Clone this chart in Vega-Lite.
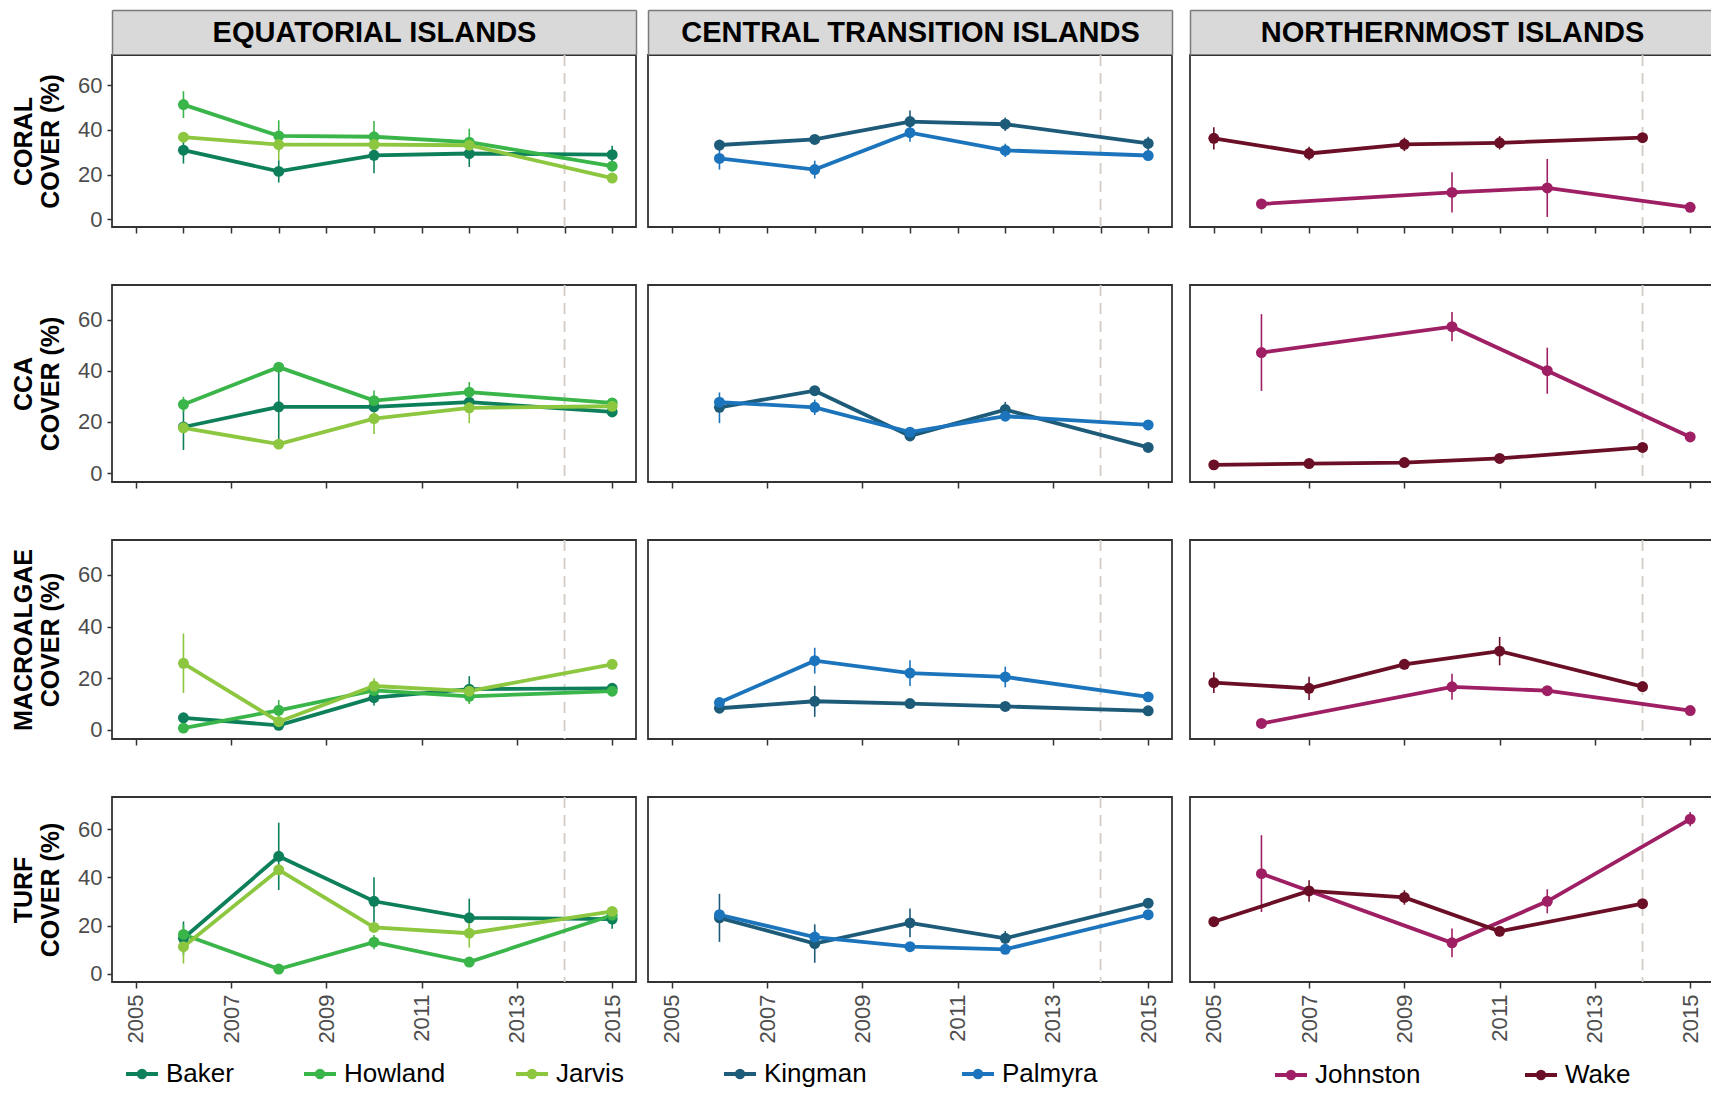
{
  "$schema": "https://vega.github.io/schema/vega-lite/v6.json",
  "padding": {"left": 10, "top": 8, "right": 0, "bottom": 0},
  "background": "white",
  "datasets": {
    "marker": [{"year": 2014}],
    "cover": [
      {"island":"Baker","region":"Equatorial","metric":"Coral","year":2006,"value":30.9,"lo":24.9,"hi":36.9},
      {"island":"Baker","region":"Equatorial","metric":"Coral","year":2008,"value":21.4,"lo":16.4,"hi":26.4},
      {"island":"Baker","region":"Equatorial","metric":"Coral","year":2010,"value":28.6,"lo":20.6,"hi":36.6},
      {"island":"Baker","region":"Equatorial","metric":"Coral","year":2012,"value":29.4,"lo":23.4,"hi":35.4},
      {"island":"Baker","region":"Equatorial","metric":"Coral","year":2015,"value":28.9,"lo":24.9,"hi":32.9},
      {"island":"Howland","region":"Equatorial","metric":"Coral","year":2006,"value":51.3,"lo":45.3,"hi":57.3},
      {"island":"Howland","region":"Equatorial","metric":"Coral","year":2008,"value":37.3,"lo":30.3,"hi":44.3},
      {"island":"Howland","region":"Equatorial","metric":"Coral","year":2010,"value":36.9,"lo":29.9,"hi":43.9},
      {"island":"Howland","region":"Equatorial","metric":"Coral","year":2012,"value":34.5,"lo":28.5,"hi":40.5},
      {"island":"Howland","region":"Equatorial","metric":"Coral","year":2015,"value":23.7,"lo":22.7,"hi":24.7},
      {"island":"Jarvis","region":"Equatorial","metric":"Coral","year":2006,"value":36.7,"lo":34.7,"hi":38.7},
      {"island":"Jarvis","region":"Equatorial","metric":"Coral","year":2008,"value":33.4,"lo":26.4,"hi":35.4},
      {"island":"Jarvis","region":"Equatorial","metric":"Coral","year":2010,"value":33.4,"lo":31.4,"hi":35.4},
      {"island":"Jarvis","region":"Equatorial","metric":"Coral","year":2012,"value":33.1,"lo":31.1,"hi":35.1},
      {"island":"Jarvis","region":"Equatorial","metric":"Coral","year":2015,"value":18.4,"lo":17.4,"hi":19.4},
      {"island":"Kingman","region":"Central","metric":"Coral","year":2006,"value":33.2,"lo":32.2,"hi":34.2},
      {"island":"Kingman","region":"Central","metric":"Coral","year":2008,"value":35.7,"lo":34.7,"hi":36.7},
      {"island":"Kingman","region":"Central","metric":"Coral","year":2010,"value":43.7,"lo":38.7,"hi":48.7},
      {"island":"Kingman","region":"Central","metric":"Coral","year":2012,"value":42.5,"lo":39.5,"hi":45.5},
      {"island":"Kingman","region":"Central","metric":"Coral","year":2015,"value":33.9,"lo":30.9,"hi":36.9},
      {"island":"Palmyra","region":"Central","metric":"Coral","year":2006,"value":27.2,"lo":22.2,"hi":32.2},
      {"island":"Palmyra","region":"Central","metric":"Coral","year":2008,"value":22.2,"lo":18.2,"hi":26.2},
      {"island":"Palmyra","region":"Central","metric":"Coral","year":2010,"value":38.7,"lo":34.7,"hi":42.7},
      {"island":"Palmyra","region":"Central","metric":"Coral","year":2012,"value":30.8,"lo":27.8,"hi":33.8},
      {"island":"Palmyra","region":"Central","metric":"Coral","year":2015,"value":28.5,"lo":27.5,"hi":29.5},
      {"island":"Johnston","region":"Northern","metric":"Coral","year":2006,"value":6.8,"lo":5.8,"hi":7.8},
      {"island":"Johnston","region":"Northern","metric":"Coral","year":2010,"value":12.0,"lo":3.0,"hi":21.0},
      {"island":"Johnston","region":"Northern","metric":"Coral","year":2012,"value":14.0,"lo":1.0,"hi":27.0},
      {"island":"Johnston","region":"Northern","metric":"Coral","year":2015,"value":5.3,"lo":4.3,"hi":6.3},
      {"island":"Wake","region":"Northern","metric":"Coral","year":2005,"value":36.2,"lo":31.2,"hi":41.2},
      {"island":"Wake","region":"Northern","metric":"Coral","year":2007,"value":29.4,"lo":26.4,"hi":32.4},
      {"island":"Wake","region":"Northern","metric":"Coral","year":2009,"value":33.5,"lo":30.5,"hi":36.5},
      {"island":"Wake","region":"Northern","metric":"Coral","year":2011,"value":34.2,"lo":31.2,"hi":37.2},
      {"island":"Wake","region":"Northern","metric":"Coral","year":2014,"value":36.5,"lo":34.5,"hi":38.5},

      {"island":"Baker","region":"Equatorial","metric":"CCA","year":2006,"value":18.0,"lo":9.0,"hi":27.0},
      {"island":"Baker","region":"Equatorial","metric":"CCA","year":2008,"value":25.9,"lo":10.9,"hi":40.9},
      {"island":"Baker","region":"Equatorial","metric":"CCA","year":2010,"value":25.9,"lo":23.9,"hi":27.9},
      {"island":"Baker","region":"Equatorial","metric":"CCA","year":2012,"value":27.7,"lo":23.7,"hi":31.7},
      {"island":"Baker","region":"Equatorial","metric":"CCA","year":2015,"value":23.9,"lo":22.9,"hi":24.9},
      {"island":"Howland","region":"Equatorial","metric":"CCA","year":2006,"value":26.8,"lo":23.8,"hi":29.8},
      {"island":"Howland","region":"Equatorial","metric":"CCA","year":2008,"value":41.4,"lo":39.4,"hi":43.4},
      {"island":"Howland","region":"Equatorial","metric":"CCA","year":2010,"value":28.3,"lo":24.3,"hi":32.3},
      {"island":"Howland","region":"Equatorial","metric":"CCA","year":2012,"value":31.6,"lo":27.6,"hi":35.6},
      {"island":"Howland","region":"Equatorial","metric":"CCA","year":2015,"value":27.4,"lo":26.4,"hi":28.4},
      {"island":"Jarvis","region":"Equatorial","metric":"CCA","year":2006,"value":17.7,"lo":16.7,"hi":18.7},
      {"island":"Jarvis","region":"Equatorial","metric":"CCA","year":2008,"value":11.3,"lo":10.3,"hi":12.3},
      {"island":"Jarvis","region":"Equatorial","metric":"CCA","year":2010,"value":21.3,"lo":15.3,"hi":27.3},
      {"island":"Jarvis","region":"Equatorial","metric":"CCA","year":2012,"value":25.5,"lo":19.5,"hi":31.5},
      {"island":"Jarvis","region":"Equatorial","metric":"CCA","year":2015,"value":26.1,"lo":25.1,"hi":27.1},
      {"island":"Kingman","region":"Central","metric":"CCA","year":2006,"value":25.7,"lo":24.7,"hi":26.7},
      {"island":"Kingman","region":"Central","metric":"CCA","year":2008,"value":32.2,"lo":31.2,"hi":33.2},
      {"island":"Kingman","region":"Central","metric":"CCA","year":2010,"value":14.5,"lo":13.5,"hi":15.5},
      {"island":"Kingman","region":"Central","metric":"CCA","year":2012,"value":24.8,"lo":21.8,"hi":27.8},
      {"island":"Kingman","region":"Central","metric":"CCA","year":2015,"value":10.0,"lo":9.0,"hi":11.0},
      {"island":"Palmyra","region":"Central","metric":"CCA","year":2006,"value":27.7,"lo":19.5,"hi":31.5},
      {"island":"Palmyra","region":"Central","metric":"CCA","year":2008,"value":25.7,"lo":22.7,"hi":28.7},
      {"island":"Palmyra","region":"Central","metric":"CCA","year":2010,"value":16.0,"lo":15.0,"hi":17.0},
      {"island":"Palmyra","region":"Central","metric":"CCA","year":2012,"value":22.2,"lo":21.2,"hi":23.2},
      {"island":"Palmyra","region":"Central","metric":"CCA","year":2015,"value":18.8,"lo":17.8,"hi":19.8},
      {"island":"Johnston","region":"Northern","metric":"CCA","year":2006,"value":47.1,"lo":32.1,"hi":62.1},
      {"island":"Johnston","region":"Northern","metric":"CCA","year":2010,"value":57.2,"lo":51.5,"hi":62.9},
      {"island":"Johnston","region":"Northern","metric":"CCA","year":2012,"value":40.0,"lo":31.0,"hi":49.0},
      {"island":"Johnston","region":"Northern","metric":"CCA","year":2015,"value":14.1,"lo":12.1,"hi":16.1},
      {"island":"Wake","region":"Northern","metric":"CCA","year":2005,"value":3.2,"lo":2.7,"hi":3.7},
      {"island":"Wake","region":"Northern","metric":"CCA","year":2007,"value":3.7,"lo":3.2,"hi":4.2},
      {"island":"Wake","region":"Northern","metric":"CCA","year":2009,"value":4.1,"lo":3.6,"hi":4.6},
      {"island":"Wake","region":"Northern","metric":"CCA","year":2011,"value":5.7,"lo":5.2,"hi":6.2},
      {"island":"Wake","region":"Northern","metric":"CCA","year":2014,"value":10.0,"lo":9.0,"hi":11.0},

      {"island":"Baker","region":"Equatorial","metric":"Macroalgae","year":2006,"value":4.7,"lo":3.7,"hi":5.7},
      {"island":"Baker","region":"Equatorial","metric":"Macroalgae","year":2008,"value":1.8,"lo":0.8,"hi":2.8},
      {"island":"Baker","region":"Equatorial","metric":"Macroalgae","year":2010,"value":12.5,"lo":9.5,"hi":15.5},
      {"island":"Baker","region":"Equatorial","metric":"Macroalgae","year":2012,"value":15.8,"lo":10.8,"hi":20.8},
      {"island":"Baker","region":"Equatorial","metric":"Macroalgae","year":2015,"value":16.1,"lo":15.1,"hi":17.1},
      {"island":"Howland","region":"Equatorial","metric":"Macroalgae","year":2006,"value":0.7,"lo":0.2,"hi":1.2},
      {"island":"Howland","region":"Equatorial","metric":"Macroalgae","year":2008,"value":7.6,"lo":3.6,"hi":11.6},
      {"island":"Howland","region":"Equatorial","metric":"Macroalgae","year":2010,"value":15.3,"lo":14.3,"hi":16.3},
      {"island":"Howland","region":"Equatorial","metric":"Macroalgae","year":2012,"value":13.0,"lo":10.0,"hi":16.0},
      {"island":"Howland","region":"Equatorial","metric":"Macroalgae","year":2015,"value":15.0,"lo":14.0,"hi":16.0},
      {"island":"Jarvis","region":"Equatorial","metric":"Macroalgae","year":2006,"value":25.8,"lo":14.3,"hi":37.3},
      {"island":"Jarvis","region":"Equatorial","metric":"Macroalgae","year":2008,"value":3.2,"lo":2.2,"hi":4.2},
      {"island":"Jarvis","region":"Equatorial","metric":"Macroalgae","year":2010,"value":17.0,"lo":14.0,"hi":20.0},
      {"island":"Jarvis","region":"Equatorial","metric":"Macroalgae","year":2012,"value":15.0,"lo":14.0,"hi":16.0},
      {"island":"Jarvis","region":"Equatorial","metric":"Macroalgae","year":2015,"value":25.4,"lo":24.4,"hi":26.4},
      {"island":"Kingman","region":"Central","metric":"Macroalgae","year":2006,"value":8.4,"lo":7.4,"hi":9.4},
      {"island":"Kingman","region":"Central","metric":"Macroalgae","year":2008,"value":11.1,"lo":5.1,"hi":17.1},
      {"island":"Kingman","region":"Central","metric":"Macroalgae","year":2010,"value":10.2,"lo":9.2,"hi":11.2},
      {"island":"Kingman","region":"Central","metric":"Macroalgae","year":2012,"value":9.1,"lo":8.1,"hi":10.1},
      {"island":"Kingman","region":"Central","metric":"Macroalgae","year":2015,"value":7.4,"lo":6.4,"hi":8.4},
      {"island":"Palmyra","region":"Central","metric":"Macroalgae","year":2006,"value":10.6,"lo":9.6,"hi":11.6},
      {"island":"Palmyra","region":"Central","metric":"Macroalgae","year":2008,"value":26.8,"lo":21.8,"hi":31.8},
      {"island":"Palmyra","region":"Central","metric":"Macroalgae","year":2010,"value":22.0,"lo":17.0,"hi":27.0},
      {"island":"Palmyra","region":"Central","metric":"Macroalgae","year":2012,"value":20.5,"lo":16.5,"hi":24.5},
      {"island":"Palmyra","region":"Central","metric":"Macroalgae","year":2015,"value":12.8,"lo":11.8,"hi":13.8},
      {"island":"Johnston","region":"Northern","metric":"Macroalgae","year":2006,"value":2.5,"lo":1.5,"hi":3.5},
      {"island":"Johnston","region":"Northern","metric":"Macroalgae","year":2010,"value":16.7,"lo":11.7,"hi":21.7},
      {"island":"Johnston","region":"Northern","metric":"Macroalgae","year":2012,"value":15.2,"lo":14.2,"hi":16.2},
      {"island":"Johnston","region":"Northern","metric":"Macroalgae","year":2015,"value":7.5,"lo":6.5,"hi":8.5},
      {"island":"Wake","region":"Northern","metric":"Macroalgae","year":2005,"value":18.3,"lo":14.3,"hi":22.3},
      {"island":"Wake","region":"Northern","metric":"Macroalgae","year":2007,"value":16.1,"lo":11.6,"hi":20.6},
      {"island":"Wake","region":"Northern","metric":"Macroalgae","year":2009,"value":25.4,"lo":23.4,"hi":27.4},
      {"island":"Wake","region":"Northern","metric":"Macroalgae","year":2011,"value":30.5,"lo":25.0,"hi":36.0},
      {"island":"Wake","region":"Northern","metric":"Macroalgae","year":2014,"value":16.8,"lo":15.8,"hi":17.8},

      {"island":"Baker","region":"Equatorial","metric":"Turf","year":2006,"value":14.7,"lo":7.7,"hi":21.7},
      {"island":"Baker","region":"Equatorial","metric":"Turf","year":2008,"value":48.8,"lo":34.8,"hi":62.8},
      {"island":"Baker","region":"Equatorial","metric":"Turf","year":2010,"value":30.1,"lo":20.1,"hi":40.1},
      {"island":"Baker","region":"Equatorial","metric":"Turf","year":2012,"value":23.2,"lo":15.2,"hi":31.2},
      {"island":"Baker","region":"Equatorial","metric":"Turf","year":2015,"value":22.7,"lo":18.7,"hi":26.7},
      {"island":"Howland","region":"Equatorial","metric":"Turf","year":2006,"value":16.3,"lo":12.3,"hi":20.3},
      {"island":"Howland","region":"Equatorial","metric":"Turf","year":2008,"value":1.9,"lo":0.9,"hi":2.9},
      {"island":"Howland","region":"Equatorial","metric":"Turf","year":2010,"value":13.1,"lo":10.1,"hi":16.1},
      {"island":"Howland","region":"Equatorial","metric":"Turf","year":2012,"value":4.8,"lo":3.8,"hi":5.8},
      {"island":"Howland","region":"Equatorial","metric":"Turf","year":2015,"value":24.3,"lo":23.3,"hi":25.3},
      {"island":"Jarvis","region":"Equatorial","metric":"Turf","year":2006,"value":11.2,"lo":4.2,"hi":18.2},
      {"island":"Jarvis","region":"Equatorial","metric":"Turf","year":2008,"value":43.2,"lo":42.2,"hi":44.2},
      {"island":"Jarvis","region":"Equatorial","metric":"Turf","year":2010,"value":19.2,"lo":18.2,"hi":20.2},
      {"island":"Jarvis","region":"Equatorial","metric":"Turf","year":2012,"value":16.8,"lo":10.8,"hi":22.8},
      {"island":"Jarvis","region":"Equatorial","metric":"Turf","year":2015,"value":25.9,"lo":24.9,"hi":26.9},
      {"island":"Kingman","region":"Central","metric":"Turf","year":2006,"value":23.2,"lo":13.2,"hi":33.2},
      {"island":"Kingman","region":"Central","metric":"Turf","year":2008,"value":12.5,"lo":4.5,"hi":20.5},
      {"island":"Kingman","region":"Central","metric":"Turf","year":2010,"value":21.1,"lo":15.1,"hi":27.1},
      {"island":"Kingman","region":"Central","metric":"Turf","year":2012,"value":14.7,"lo":11.7,"hi":17.7},
      {"island":"Kingman","region":"Central","metric":"Turf","year":2015,"value":29.3,"lo":27.3,"hi":31.3},
      {"island":"Palmyra","region":"Central","metric":"Turf","year":2006,"value":24.5,"lo":23.5,"hi":25.5},
      {"island":"Palmyra","region":"Central","metric":"Turf","year":2008,"value":15.2,"lo":12.2,"hi":18.2},
      {"island":"Palmyra","region":"Central","metric":"Turf","year":2010,"value":11.2,"lo":10.2,"hi":12.2},
      {"island":"Palmyra","region":"Central","metric":"Turf","year":2012,"value":10.1,"lo":9.1,"hi":11.1},
      {"island":"Palmyra","region":"Central","metric":"Turf","year":2015,"value":24.5,"lo":23.5,"hi":25.5},
      {"island":"Johnston","region":"Northern","metric":"Turf","year":2006,"value":41.6,"lo":25.6,"hi":57.6},
      {"island":"Johnston","region":"Northern","metric":"Turf","year":2010,"value":12.8,"lo":6.8,"hi":18.8},
      {"island":"Johnston","region":"Northern","metric":"Turf","year":2012,"value":30.1,"lo":25.1,"hi":35.1},
      {"island":"Johnston","region":"Northern","metric":"Turf","year":2015,"value":64.3,"lo":61.3,"hi":67.3},
      {"island":"Wake","region":"Northern","metric":"Turf","year":2005,"value":21.6,"lo":19.6,"hi":23.6},
      {"island":"Wake","region":"Northern","metric":"Turf","year":2007,"value":34.4,"lo":29.9,"hi":38.9},
      {"island":"Wake","region":"Northern","metric":"Turf","year":2009,"value":31.7,"lo":28.7,"hi":34.7},
      {"island":"Wake","region":"Northern","metric":"Turf","year":2011,"value":17.6,"lo":15.6,"hi":19.6},
      {"island":"Wake","region":"Northern","metric":"Turf","year":2014,"value":29.1,"lo":28.1,"hi":30.1}
    ]
  },
  "data": {"name": "cover"},
  "spacing": 8,
  "resolve": {"scale": {"x": "independent", "y": "independent"}, "legend": {"color": "independent"}},
  "hconcat": [
    {
      "spacing": 58,
      "bounds": "flush",
      "resolve": {"scale": {"x": "independent", "y": "independent"}, "legend": {"color": "independent"}},
      "vconcat": [
        {
          "width": 524, "height": 172,
          "transform": [{"filter": "datum.region == 'Equatorial' && datum.metric == 'Coral'"}],
          "resolve": {"axis": {"x": "independent"}},
          "layer": [
            {"data": {"name": "marker"}, "mark": {"type": "rule", "color": "#d3ccc5", "strokeDash": [11, 7], "strokeWidth": 1.8},
             "encoding": {"x": {"field": "year", "type": "quantitative", "scale": {"domain": [2004.5, 2015.5], "nice": false, "zero": false},
               "axis": {"orient": "bottom", "values": [2005,2006,2007,2008,2009,2010,2011,2012,2013,2014,2015], "labels": false, "title": null}}}},
            {"mark": {"type": "rule", "strokeWidth": 1.6},
             "encoding": {
               "x": {"field": "year", "type": "quantitative", "scale": {"domain": [2004.5, 2015.5], "nice": false, "zero": false},
                 "axis": {"orient": "top", "offset": 23, "domain": true, "domainColor": "#d9d9d9", "domainWidth": 44, "ticks": false, "labels": false, "title": "EQUATORIAL ISLANDS", "titleFontSize": 29, "titleFontWeight": "bold", "titleColor": "#000000", "titleY": 0, "titleBaseline": "middle", "titlePadding": 0}},
               "y": {"field": "lo", "type": "quantitative", "scale": {"domain": [-3.5, 73.5], "nice": false, "zero": false},
                 "axis": {"values": [0, 20, 40, 60], "title": ["CORAL", "COVER (%)"], "titlePadding": 14, "titleLineHeight": 27, "tickSize": 5}},
               "y2": {"field": "hi"},
               "color": {"field": "island", "type": "nominal", "legend": null}}},
            {"mark": {"type": "line", "strokeWidth": 3.8},
             "encoding": {
               "x": {"field": "year", "type": "quantitative", "scale": {"domain": [2004.5, 2015.5], "nice": false, "zero": false},
                 "axis": {"orient": "top", "offset": 45, "domain": true, "domainColor": "#7a7a7a", "domainWidth": 1.5, "ticks": true, "tickColor": "#7a7a7a", "tickWidth": 1.5, "tickSize": -45, "values": [2004.5, 2015.5], "labels": false, "title": null, "zindex": 1}},
               "y": {"field": "value", "type": "quantitative", "scale": {"domain": [-3.5, 73.5], "nice": false, "zero": false},
                 "axis": {"values": [0, 20, 40, 60], "title": ["CORAL", "COVER (%)"], "titlePadding": 14, "titleLineHeight": 27, "tickSize": 5}},
               "color": {"field": "island", "type": "nominal", "legend": null}}},
            {"mark": {"type": "circle", "size": 120, "opacity": 1},
             "encoding": {
               "x": {"field": "year", "type": "quantitative", "scale": {"domain": [2004.5, 2015.5], "nice": false, "zero": false}, "axis": null},
               "y": {"field": "value", "type": "quantitative", "scale": {"domain": [-3.5, 73.5], "nice": false, "zero": false},
                 "axis": {"values": [0, 20, 40, 60], "title": ["CORAL", "COVER (%)"], "titlePadding": 14, "titleLineHeight": 27, "tickSize": 5}},
               "color": {"field": "island", "type": "nominal", "legend": null}}}
          ]
        },
        {
          "width": 524, "height": 197,
          "transform": [{"filter": "datum.region == 'Equatorial' && datum.metric == 'CCA'"}],
          "resolve": {"axis": {"x": "independent"}},
          "layer": [
            {"data": {"name": "marker"}, "mark": {"type": "rule", "color": "#d3ccc5", "strokeDash": [11, 7], "strokeWidth": 1.8},
             "encoding": {"x": {"field": "year", "type": "quantitative", "scale": {"domain": [2004.5, 2015.5], "nice": false, "zero": false},
               "axis": {"orient": "bottom", "values": [2005,2007,2009,2011,2013,2015], "labels": false, "title": null}}}},
            {"mark": {"type": "rule", "strokeWidth": 1.6},
             "encoding": {
               "x": {"field": "year", "type": "quantitative", "scale": {"domain": [2004.5, 2015.5], "nice": false, "zero": false}, "axis": null},
               "y": {"field": "lo", "type": "quantitative", "scale": {"domain": [-3.5, 73.5], "nice": false, "zero": false},
                 "axis": {"values": [0, 20, 40, 60], "title": ["CCA", "COVER (%)"], "titlePadding": 14, "titleLineHeight": 27, "tickSize": 5}},
               "y2": {"field": "hi"},
               "color": {"field": "island", "type": "nominal", "legend": null}}},
            {"mark": {"type": "line", "strokeWidth": 3.8},
             "encoding": {
               "x": {"field": "year", "type": "quantitative", "scale": {"domain": [2004.5, 2015.5], "nice": false, "zero": false}, "axis": null},
               "y": {"field": "value", "type": "quantitative", "scale": {"domain": [-3.5, 73.5], "nice": false, "zero": false},
                 "axis": {"values": [0, 20, 40, 60], "title": ["CCA", "COVER (%)"], "titlePadding": 14, "titleLineHeight": 27, "tickSize": 5}},
               "color": {"field": "island", "type": "nominal", "legend": null}}},
            {"mark": {"type": "circle", "size": 120, "opacity": 1},
             "encoding": {
               "x": {"field": "year", "type": "quantitative", "scale": {"domain": [2004.5, 2015.5], "nice": false, "zero": false}, "axis": null},
               "y": {"field": "value", "type": "quantitative", "scale": {"domain": [-3.5, 73.5], "nice": false, "zero": false},
                 "axis": {"values": [0, 20, 40, 60], "title": ["CCA", "COVER (%)"], "titlePadding": 14, "titleLineHeight": 27, "tickSize": 5}},
               "color": {"field": "island", "type": "nominal", "legend": null}}}
          ]
        },
        {
          "width": 524, "height": 199,
          "transform": [{"filter": "datum.region == 'Equatorial' && datum.metric == 'Macroalgae'"}],
          "resolve": {"axis": {"x": "independent"}},
          "layer": [
            {"data": {"name": "marker"}, "mark": {"type": "rule", "color": "#d3ccc5", "strokeDash": [11, 7], "strokeWidth": 1.8},
             "encoding": {"x": {"field": "year", "type": "quantitative", "scale": {"domain": [2004.5, 2015.5], "nice": false, "zero": false},
               "axis": {"orient": "bottom", "values": [2005,2007,2009,2011,2013,2015], "labels": false, "title": null}}}},
            {"mark": {"type": "rule", "strokeWidth": 1.6},
             "encoding": {
               "x": {"field": "year", "type": "quantitative", "scale": {"domain": [2004.5, 2015.5], "nice": false, "zero": false}, "axis": null},
               "y": {"field": "lo", "type": "quantitative", "scale": {"domain": [-3.5, 73.5], "nice": false, "zero": false},
                 "axis": {"values": [0, 20, 40, 60], "title": ["MACROALGAE", "COVER (%)"], "titlePadding": 14, "titleLineHeight": 27, "tickSize": 5}},
               "y2": {"field": "hi"},
               "color": {"field": "island", "type": "nominal", "legend": null}}},
            {"mark": {"type": "line", "strokeWidth": 3.8},
             "encoding": {
               "x": {"field": "year", "type": "quantitative", "scale": {"domain": [2004.5, 2015.5], "nice": false, "zero": false}, "axis": null},
               "y": {"field": "value", "type": "quantitative", "scale": {"domain": [-3.5, 73.5], "nice": false, "zero": false},
                 "axis": {"values": [0, 20, 40, 60], "title": ["MACROALGAE", "COVER (%)"], "titlePadding": 14, "titleLineHeight": 27, "tickSize": 5}},
               "color": {"field": "island", "type": "nominal", "legend": null}}},
            {"mark": {"type": "circle", "size": 120, "opacity": 1},
             "encoding": {
               "x": {"field": "year", "type": "quantitative", "scale": {"domain": [2004.5, 2015.5], "nice": false, "zero": false}, "axis": null},
               "y": {"field": "value", "type": "quantitative", "scale": {"domain": [-3.5, 73.5], "nice": false, "zero": false},
                 "axis": {"values": [0, 20, 40, 60], "title": ["MACROALGAE", "COVER (%)"], "titlePadding": 14, "titleLineHeight": 27, "tickSize": 5}},
               "color": {"field": "island", "type": "nominal", "legend": null}}}
          ]
        },
        {
          "width": 524, "height": 185,
          "transform": [{"filter": "datum.region == 'Equatorial' && datum.metric == 'Turf'"}],
          "resolve": {"axis": {"x": "independent"}},
          "layer": [
            {"data": {"name": "marker"}, "mark": {"type": "rule", "color": "#d3ccc5", "strokeDash": [11, 7], "strokeWidth": 1.8},
             "encoding": {"x": {"field": "year", "type": "quantitative", "scale": {"domain": [2004.5, 2015.5], "nice": false, "zero": false},
               "axis": {"orient": "bottom", "values": [2005,2007,2009,2011,2013,2015], "labels": true, "labelAngle": 270, "format": "d", "labelPadding": 6, "title": null}}}},
            {"mark": {"type": "rule", "strokeWidth": 1.6},
             "encoding": {
               "x": {"field": "year", "type": "quantitative", "scale": {"domain": [2004.5, 2015.5], "nice": false, "zero": false}, "axis": null},
               "y": {"field": "lo", "type": "quantitative", "scale": {"domain": [-3.5, 73.5], "nice": false, "zero": false},
                 "axis": {"values": [0, 20, 40, 60], "title": ["TURF", "COVER (%)"], "titlePadding": 14, "titleLineHeight": 27, "tickSize": 5}},
               "y2": {"field": "hi"},
               "color": {"field": "island", "type": "nominal", "legend": null}}},
            {"mark": {"type": "line", "strokeWidth": 3.8},
             "encoding": {
               "x": {"field": "year", "type": "quantitative", "scale": {"domain": [2004.5, 2015.5], "nice": false, "zero": false}, "axis": null},
               "y": {"field": "value", "type": "quantitative", "scale": {"domain": [-3.5, 73.5], "nice": false, "zero": false},
                 "axis": {"values": [0, 20, 40, 60], "title": ["TURF", "COVER (%)"], "titlePadding": 14, "titleLineHeight": 27, "tickSize": 5}},
               "color": {"field": "island", "type": "nominal", "legend": null}}},
            {"mark": {"type": "circle", "size": 120, "opacity": 1},
             "encoding": {
               "x": {"field": "year", "type": "quantitative", "scale": {"domain": [2004.5, 2015.5], "nice": false, "zero": false}, "axis": null},
               "y": {"field": "value", "type": "quantitative", "scale": {"domain": [-3.5, 73.5], "nice": false, "zero": false},
                 "axis": {"values": [0, 20, 40, 60], "title": ["TURF", "COVER (%)"], "titlePadding": 14, "titleLineHeight": 27, "tickSize": 5}},
               "color": {"field": "island", "type": "nominal", "legend": null}}}
          ]
        },
        {
          "width": 524, "height": 1,
          "view": {"stroke": null},
          "transform": [{"filter": "datum.region == 'Equatorial'"}, {"aggregate": [{"op": "count", "as": "n"}], "groupby": ["island"]}],
          "mark": {"type": "line", "strokeWidth": 4},
          "encoding": {
            "x": {"field": "n", "type": "quantitative", "axis": null},
            "y": {"field": "n", "type": "quantitative", "axis": null},
            "color": {"field": "island", "type": "nominal", "legend": {"orient": "bottom", "direction": "horizontal", "title": null, "values": ["Baker", "Howland", "Jarvis"], "columnPadding": 62, "offset": 8}}
          }
        }
      ]
    },
    {
      "spacing": 58,
      "bounds": "flush",
      "resolve": {"scale": {"x": "independent", "y": "independent"}, "legend": {"color": "independent"}},
      "vconcat": [
        {
          "width": 524, "height": 172,
          "transform": [{"filter": "datum.region == 'Central' && datum.metric == 'Coral'"}],
          "resolve": {"axis": {"x": "independent"}},
          "layer": [
            {"data": {"name": "marker"}, "mark": {"type": "rule", "color": "#d3ccc5", "strokeDash": [11, 7], "strokeWidth": 1.8},
             "encoding": {"x": {"field": "year", "type": "quantitative", "scale": {"domain": [2004.5, 2015.5], "nice": false, "zero": false},
               "axis": {"orient": "bottom", "values": [2005,2006,2007,2008,2009,2010,2011,2012,2013,2014,2015], "labels": false, "title": null}}}},
            {"mark": {"type": "rule", "strokeWidth": 1.6},
             "encoding": {
               "x": {"field": "year", "type": "quantitative", "scale": {"domain": [2004.5, 2015.5], "nice": false, "zero": false},
                 "axis": {"orient": "top", "offset": 23, "domain": true, "domainColor": "#d9d9d9", "domainWidth": 44, "ticks": false, "labels": false, "title": "CENTRAL TRANSITION ISLANDS", "titleFontSize": 29, "titleFontWeight": "bold", "titleColor": "#000000", "titleY": 0, "titleBaseline": "middle", "titlePadding": 0}},
               "y": {"field": "lo", "type": "quantitative", "scale": {"domain": [-3.5, 73.5], "nice": false, "zero": false}, "axis": null},
               "y2": {"field": "hi"},
               "color": {"field": "island", "type": "nominal", "legend": null}}},
            {"mark": {"type": "line", "strokeWidth": 3.8},
             "encoding": {
               "x": {"field": "year", "type": "quantitative", "scale": {"domain": [2004.5, 2015.5], "nice": false, "zero": false},
                 "axis": {"orient": "top", "offset": 45, "domain": true, "domainColor": "#7a7a7a", "domainWidth": 1.5, "ticks": true, "tickColor": "#7a7a7a", "tickWidth": 1.5, "tickSize": -45, "values": [2004.5, 2015.5], "labels": false, "title": null, "zindex": 1}},
               "y": {"field": "value", "type": "quantitative", "scale": {"domain": [-3.5, 73.5], "nice": false, "zero": false}, "axis": null},
               "color": {"field": "island", "type": "nominal", "legend": null}}},
            {"mark": {"type": "circle", "size": 120, "opacity": 1},
             "encoding": {
               "x": {"field": "year", "type": "quantitative", "scale": {"domain": [2004.5, 2015.5], "nice": false, "zero": false}, "axis": null},
               "y": {"field": "value", "type": "quantitative", "scale": {"domain": [-3.5, 73.5], "nice": false, "zero": false}, "axis": null},
               "color": {"field": "island", "type": "nominal", "legend": null}}}
          ]
        },
        {
          "width": 524, "height": 197,
          "transform": [{"filter": "datum.region == 'Central' && datum.metric == 'CCA'"}],
          "resolve": {"axis": {"x": "independent"}},
          "layer": [
            {"data": {"name": "marker"}, "mark": {"type": "rule", "color": "#d3ccc5", "strokeDash": [11, 7], "strokeWidth": 1.8},
             "encoding": {"x": {"field": "year", "type": "quantitative", "scale": {"domain": [2004.5, 2015.5], "nice": false, "zero": false},
               "axis": {"orient": "bottom", "values": [2005,2007,2009,2011,2013,2015], "labels": false, "title": null}}}},
            {"mark": {"type": "rule", "strokeWidth": 1.6},
             "encoding": {
               "x": {"field": "year", "type": "quantitative", "scale": {"domain": [2004.5, 2015.5], "nice": false, "zero": false}, "axis": null},
               "y": {"field": "lo", "type": "quantitative", "scale": {"domain": [-3.5, 73.5], "nice": false, "zero": false}, "axis": null},
               "y2": {"field": "hi"},
               "color": {"field": "island", "type": "nominal", "legend": null}}},
            {"mark": {"type": "line", "strokeWidth": 3.8},
             "encoding": {
               "x": {"field": "year", "type": "quantitative", "scale": {"domain": [2004.5, 2015.5], "nice": false, "zero": false}, "axis": null},
               "y": {"field": "value", "type": "quantitative", "scale": {"domain": [-3.5, 73.5], "nice": false, "zero": false}, "axis": null},
               "color": {"field": "island", "type": "nominal", "legend": null}}},
            {"mark": {"type": "circle", "size": 120, "opacity": 1},
             "encoding": {
               "x": {"field": "year", "type": "quantitative", "scale": {"domain": [2004.5, 2015.5], "nice": false, "zero": false}, "axis": null},
               "y": {"field": "value", "type": "quantitative", "scale": {"domain": [-3.5, 73.5], "nice": false, "zero": false}, "axis": null},
               "color": {"field": "island", "type": "nominal", "legend": null}}}
          ]
        },
        {
          "width": 524, "height": 199,
          "transform": [{"filter": "datum.region == 'Central' && datum.metric == 'Macroalgae'"}],
          "resolve": {"axis": {"x": "independent"}},
          "layer": [
            {"data": {"name": "marker"}, "mark": {"type": "rule", "color": "#d3ccc5", "strokeDash": [11, 7], "strokeWidth": 1.8},
             "encoding": {"x": {"field": "year", "type": "quantitative", "scale": {"domain": [2004.5, 2015.5], "nice": false, "zero": false},
               "axis": {"orient": "bottom", "values": [2005,2007,2009,2011,2013,2015], "labels": false, "title": null}}}},
            {"mark": {"type": "rule", "strokeWidth": 1.6},
             "encoding": {
               "x": {"field": "year", "type": "quantitative", "scale": {"domain": [2004.5, 2015.5], "nice": false, "zero": false}, "axis": null},
               "y": {"field": "lo", "type": "quantitative", "scale": {"domain": [-3.5, 73.5], "nice": false, "zero": false}, "axis": null},
               "y2": {"field": "hi"},
               "color": {"field": "island", "type": "nominal", "legend": null}}},
            {"mark": {"type": "line", "strokeWidth": 3.8},
             "encoding": {
               "x": {"field": "year", "type": "quantitative", "scale": {"domain": [2004.5, 2015.5], "nice": false, "zero": false}, "axis": null},
               "y": {"field": "value", "type": "quantitative", "scale": {"domain": [-3.5, 73.5], "nice": false, "zero": false}, "axis": null},
               "color": {"field": "island", "type": "nominal", "legend": null}}},
            {"mark": {"type": "circle", "size": 120, "opacity": 1},
             "encoding": {
               "x": {"field": "year", "type": "quantitative", "scale": {"domain": [2004.5, 2015.5], "nice": false, "zero": false}, "axis": null},
               "y": {"field": "value", "type": "quantitative", "scale": {"domain": [-3.5, 73.5], "nice": false, "zero": false}, "axis": null},
               "color": {"field": "island", "type": "nominal", "legend": null}}}
          ]
        },
        {
          "width": 524, "height": 185,
          "transform": [{"filter": "datum.region == 'Central' && datum.metric == 'Turf'"}],
          "resolve": {"axis": {"x": "independent"}},
          "layer": [
            {"data": {"name": "marker"}, "mark": {"type": "rule", "color": "#d3ccc5", "strokeDash": [11, 7], "strokeWidth": 1.8},
             "encoding": {"x": {"field": "year", "type": "quantitative", "scale": {"domain": [2004.5, 2015.5], "nice": false, "zero": false},
               "axis": {"orient": "bottom", "values": [2005,2007,2009,2011,2013,2015], "labels": true, "labelAngle": 270, "format": "d", "labelPadding": 6, "title": null}}}},
            {"mark": {"type": "rule", "strokeWidth": 1.6},
             "encoding": {
               "x": {"field": "year", "type": "quantitative", "scale": {"domain": [2004.5, 2015.5], "nice": false, "zero": false}, "axis": null},
               "y": {"field": "lo", "type": "quantitative", "scale": {"domain": [-3.5, 73.5], "nice": false, "zero": false}, "axis": null},
               "y2": {"field": "hi"},
               "color": {"field": "island", "type": "nominal", "legend": null}}},
            {"mark": {"type": "line", "strokeWidth": 3.8},
             "encoding": {
               "x": {"field": "year", "type": "quantitative", "scale": {"domain": [2004.5, 2015.5], "nice": false, "zero": false}, "axis": null},
               "y": {"field": "value", "type": "quantitative", "scale": {"domain": [-3.5, 73.5], "nice": false, "zero": false}, "axis": null},
               "color": {"field": "island", "type": "nominal", "legend": null}}},
            {"mark": {"type": "circle", "size": 120, "opacity": 1},
             "encoding": {
               "x": {"field": "year", "type": "quantitative", "scale": {"domain": [2004.5, 2015.5], "nice": false, "zero": false}, "axis": null},
               "y": {"field": "value", "type": "quantitative", "scale": {"domain": [-3.5, 73.5], "nice": false, "zero": false}, "axis": null},
               "color": {"field": "island", "type": "nominal", "legend": null}}}
          ]
        },
        {
          "width": 524, "height": 1,
          "view": {"stroke": null},
          "transform": [{"filter": "datum.region == 'Central'"}, {"aggregate": [{"op": "count", "as": "n"}], "groupby": ["island"]}],
          "mark": {"type": "line", "strokeWidth": 4},
          "encoding": {
            "x": {"field": "n", "type": "quantitative", "axis": null},
            "y": {"field": "n", "type": "quantitative", "axis": null},
            "color": {"field": "island", "type": "nominal", "legend": {"orient": "bottom", "direction": "horizontal", "title": null, "values": ["Kingman", "Palmyra"], "columnPadding": 87, "offset": 8}}
          }
        }
      ]
    },
    {
      "spacing": 58,
      "bounds": "flush",
      "resolve": {"scale": {"x": "independent", "y": "independent"}, "legend": {"color": "independent"}},
      "vconcat": [
        {
          "width": 524, "height": 172,
          "transform": [{"filter": "datum.region == 'Northern' && datum.metric == 'Coral'"}],
          "resolve": {"axis": {"x": "independent"}},
          "layer": [
            {"data": {"name": "marker"}, "mark": {"type": "rule", "color": "#d3ccc5", "strokeDash": [11, 7], "strokeWidth": 1.8},
             "encoding": {"x": {"field": "year", "type": "quantitative", "scale": {"domain": [2004.5, 2015.5], "nice": false, "zero": false},
               "axis": {"orient": "bottom", "values": [2005,2006,2007,2008,2009,2010,2011,2012,2013,2014,2015], "labels": false, "title": null}}}},
            {"mark": {"type": "rule", "strokeWidth": 1.6},
             "encoding": {
               "x": {"field": "year", "type": "quantitative", "scale": {"domain": [2004.5, 2015.5], "nice": false, "zero": false},
                 "axis": {"orient": "top", "offset": 23, "domain": true, "domainColor": "#d9d9d9", "domainWidth": 44, "ticks": false, "labels": false, "title": "NORTHERNMOST ISLANDS", "titleFontSize": 29, "titleFontWeight": "bold", "titleColor": "#000000", "titleY": 0, "titleBaseline": "middle", "titlePadding": 0}},
               "y": {"field": "lo", "type": "quantitative", "scale": {"domain": [-3.5, 73.5], "nice": false, "zero": false}, "axis": null},
               "y2": {"field": "hi"},
               "color": {"field": "island", "type": "nominal", "legend": null}}},
            {"mark": {"type": "line", "strokeWidth": 3.8},
             "encoding": {
               "x": {"field": "year", "type": "quantitative", "scale": {"domain": [2004.5, 2015.5], "nice": false, "zero": false},
                 "axis": {"orient": "top", "offset": 45, "domain": true, "domainColor": "#7a7a7a", "domainWidth": 1.5, "ticks": true, "tickColor": "#7a7a7a", "tickWidth": 1.5, "tickSize": -45, "values": [2004.5, 2015.5], "labels": false, "title": null, "zindex": 1}},
               "y": {"field": "value", "type": "quantitative", "scale": {"domain": [-3.5, 73.5], "nice": false, "zero": false}, "axis": null},
               "color": {"field": "island", "type": "nominal", "legend": null}}},
            {"mark": {"type": "circle", "size": 120, "opacity": 1},
             "encoding": {
               "x": {"field": "year", "type": "quantitative", "scale": {"domain": [2004.5, 2015.5], "nice": false, "zero": false}, "axis": null},
               "y": {"field": "value", "type": "quantitative", "scale": {"domain": [-3.5, 73.5], "nice": false, "zero": false}, "axis": null},
               "color": {"field": "island", "type": "nominal", "legend": null}}}
          ]
        },
        {
          "width": 524, "height": 197,
          "transform": [{"filter": "datum.region == 'Northern' && datum.metric == 'CCA'"}],
          "resolve": {"axis": {"x": "independent"}},
          "layer": [
            {"data": {"name": "marker"}, "mark": {"type": "rule", "color": "#d3ccc5", "strokeDash": [11, 7], "strokeWidth": 1.8},
             "encoding": {"x": {"field": "year", "type": "quantitative", "scale": {"domain": [2004.5, 2015.5], "nice": false, "zero": false},
               "axis": {"orient": "bottom", "values": [2005,2007,2009,2011,2013,2015], "labels": false, "title": null}}}},
            {"mark": {"type": "rule", "strokeWidth": 1.6},
             "encoding": {
               "x": {"field": "year", "type": "quantitative", "scale": {"domain": [2004.5, 2015.5], "nice": false, "zero": false}, "axis": null},
               "y": {"field": "lo", "type": "quantitative", "scale": {"domain": [-3.5, 73.5], "nice": false, "zero": false}, "axis": null},
               "y2": {"field": "hi"},
               "color": {"field": "island", "type": "nominal", "legend": null}}},
            {"mark": {"type": "line", "strokeWidth": 3.8},
             "encoding": {
               "x": {"field": "year", "type": "quantitative", "scale": {"domain": [2004.5, 2015.5], "nice": false, "zero": false}, "axis": null},
               "y": {"field": "value", "type": "quantitative", "scale": {"domain": [-3.5, 73.5], "nice": false, "zero": false}, "axis": null},
               "color": {"field": "island", "type": "nominal", "legend": null}}},
            {"mark": {"type": "circle", "size": 120, "opacity": 1},
             "encoding": {
               "x": {"field": "year", "type": "quantitative", "scale": {"domain": [2004.5, 2015.5], "nice": false, "zero": false}, "axis": null},
               "y": {"field": "value", "type": "quantitative", "scale": {"domain": [-3.5, 73.5], "nice": false, "zero": false}, "axis": null},
               "color": {"field": "island", "type": "nominal", "legend": null}}}
          ]
        },
        {
          "width": 524, "height": 199,
          "transform": [{"filter": "datum.region == 'Northern' && datum.metric == 'Macroalgae'"}],
          "resolve": {"axis": {"x": "independent"}},
          "layer": [
            {"data": {"name": "marker"}, "mark": {"type": "rule", "color": "#d3ccc5", "strokeDash": [11, 7], "strokeWidth": 1.8},
             "encoding": {"x": {"field": "year", "type": "quantitative", "scale": {"domain": [2004.5, 2015.5], "nice": false, "zero": false},
               "axis": {"orient": "bottom", "values": [2005,2007,2009,2011,2013,2015], "labels": false, "title": null}}}},
            {"mark": {"type": "rule", "strokeWidth": 1.6},
             "encoding": {
               "x": {"field": "year", "type": "quantitative", "scale": {"domain": [2004.5, 2015.5], "nice": false, "zero": false}, "axis": null},
               "y": {"field": "lo", "type": "quantitative", "scale": {"domain": [-3.5, 73.5], "nice": false, "zero": false}, "axis": null},
               "y2": {"field": "hi"},
               "color": {"field": "island", "type": "nominal", "legend": null}}},
            {"mark": {"type": "line", "strokeWidth": 3.8},
             "encoding": {
               "x": {"field": "year", "type": "quantitative", "scale": {"domain": [2004.5, 2015.5], "nice": false, "zero": false}, "axis": null},
               "y": {"field": "value", "type": "quantitative", "scale": {"domain": [-3.5, 73.5], "nice": false, "zero": false}, "axis": null},
               "color": {"field": "island", "type": "nominal", "legend": null}}},
            {"mark": {"type": "circle", "size": 120, "opacity": 1},
             "encoding": {
               "x": {"field": "year", "type": "quantitative", "scale": {"domain": [2004.5, 2015.5], "nice": false, "zero": false}, "axis": null},
               "y": {"field": "value", "type": "quantitative", "scale": {"domain": [-3.5, 73.5], "nice": false, "zero": false}, "axis": null},
               "color": {"field": "island", "type": "nominal", "legend": null}}}
          ]
        },
        {
          "width": 524, "height": 185,
          "transform": [{"filter": "datum.region == 'Northern' && datum.metric == 'Turf'"}],
          "resolve": {"axis": {"x": "independent"}},
          "layer": [
            {"data": {"name": "marker"}, "mark": {"type": "rule", "color": "#d3ccc5", "strokeDash": [11, 7], "strokeWidth": 1.8},
             "encoding": {"x": {"field": "year", "type": "quantitative", "scale": {"domain": [2004.5, 2015.5], "nice": false, "zero": false},
               "axis": {"orient": "bottom", "values": [2005,2007,2009,2011,2013,2015], "labels": true, "labelAngle": 270, "format": "d", "labelPadding": 6, "title": null}}}},
            {"mark": {"type": "rule", "strokeWidth": 1.6},
             "encoding": {
               "x": {"field": "year", "type": "quantitative", "scale": {"domain": [2004.5, 2015.5], "nice": false, "zero": false}, "axis": null},
               "y": {"field": "lo", "type": "quantitative", "scale": {"domain": [-3.5, 73.5], "nice": false, "zero": false}, "axis": null},
               "y2": {"field": "hi"},
               "color": {"field": "island", "type": "nominal", "legend": null}}},
            {"mark": {"type": "line", "strokeWidth": 3.8},
             "encoding": {
               "x": {"field": "year", "type": "quantitative", "scale": {"domain": [2004.5, 2015.5], "nice": false, "zero": false}, "axis": null},
               "y": {"field": "value", "type": "quantitative", "scale": {"domain": [-3.5, 73.5], "nice": false, "zero": false}, "axis": null},
               "color": {"field": "island", "type": "nominal", "legend": null}}},
            {"mark": {"type": "circle", "size": 120, "opacity": 1},
             "encoding": {
               "x": {"field": "year", "type": "quantitative", "scale": {"domain": [2004.5, 2015.5], "nice": false, "zero": false}, "axis": null},
               "y": {"field": "value", "type": "quantitative", "scale": {"domain": [-3.5, 73.5], "nice": false, "zero": false}, "axis": null},
               "color": {"field": "island", "type": "nominal", "legend": null}}}
          ]
        },
        {
          "width": 524, "height": 1,
          "view": {"stroke": null},
          "transform": [{"filter": "datum.region == 'Northern'"}, {"aggregate": [{"op": "count", "as": "n"}], "groupby": ["island"]}],
          "mark": {"type": "line", "strokeWidth": 4},
          "encoding": {
            "x": {"field": "n", "type": "quantitative", "axis": null},
            "y": {"field": "n", "type": "quantitative", "axis": null},
            "color": {"field": "island", "type": "nominal", "legend": {"orient": "bottom", "direction": "horizontal", "title": null, "values": ["Johnston", "Wake"], "columnPadding": 96, "offset": 8}}
          }
        }
      ]
    }
  ],
  "config": {
    "font": "Liberation Sans",
    "view": {"stroke": "#333333", "strokeWidth": 1.8},
    "range": {"category": ["#0e7f5b", "#3ab54a", "#8dc63f", "#9e1f63", "#1d5b79", "#1c75bc", "#6a0f25"]},
    "axis": {
      "grid": false, "domain": false,
      "tickColor": "#333333", "tickWidth": 1.5, "tickSize": 6,
      "labelFont": "Liberation Sans",
      "labelFontSize": 22, "labelColor": "#4d4d4d", "labelPadding": 5,
      "titleFont": "Liberation Sans", "titleFontWeight": "bold", "titleFontSize": 25, "titleColor": "#000000"
    },
    "legend": {
      "symbolType": "M-1,0L1,0M-0.2,0A0.2,0.2,0,1,1,0.2,0A0.2,0.2,0,1,1,-0.2,0Z",
      "symbolSize": 1024, "symbolStrokeWidth": 4, "symbolOpacity": 1,
      "labelFont": "Liberation Sans",
      "labelFontSize": 26, "labelColor": "#000000", "labelOffset": 6,
      "layout": {"anchor": "middle"}
    }
  }
}
